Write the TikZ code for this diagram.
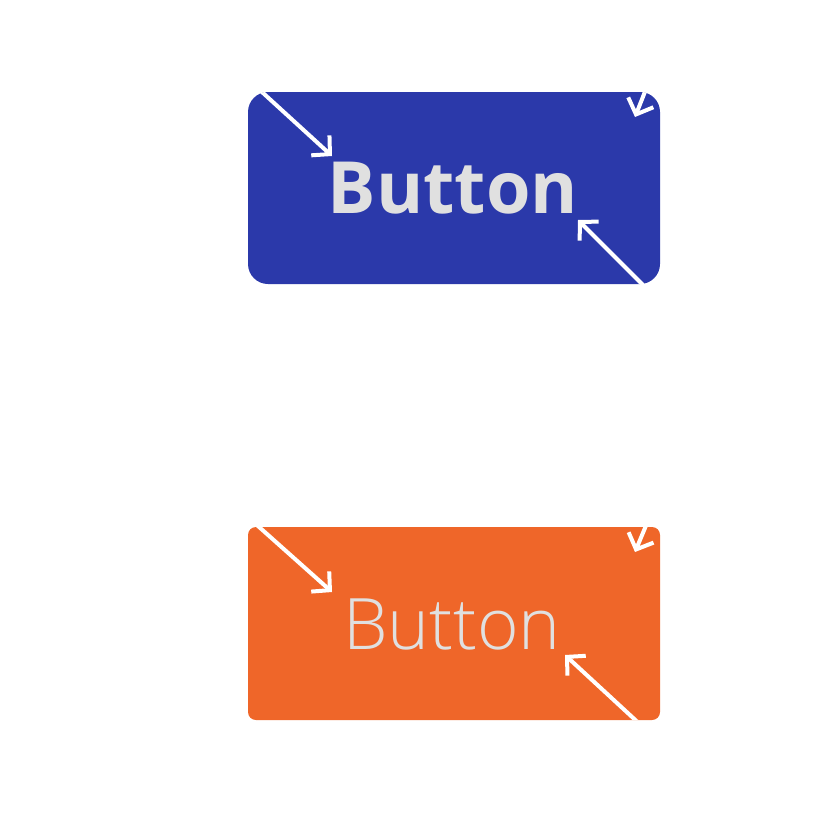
\documentclass[tikz,border=0pt]{standalone}
\usepackage{fontspec}
\setmainfont{Open Sans}
\newfontfamily\oslight{Open Sans Light}
\usetikzlibrary{arrows.meta}
\definecolor{btnblue}{HTML}{2B39AA}
\definecolor{btnorange}{HTML}{EF6629}
\definecolor{btntext}{HTML}{E0E0E0}
\tikzset{
  btnbox/.style={inner sep=0pt, minimum width=412pt},
  btnlabel/.style={text=btntext, inner sep=0pt, anchor=base},
  shrinkarrow/.style={draw=white, line width=4pt, -{Straight Barb[length=13pt,width=27pt]}}
}
\begin{document}
\begin{tikzpicture}[x=1pt,y=-1pt]
\useasboundingbox (0,0) rectangle (812,816);
% blue button
\node[btnbox, fill=btnblue, rounded corners=20pt, minimum height=192pt] (btnA) at (454,188) {};
\node[btnlabel, font=\fontsize{72}{80}\bfseries\selectfont] (labelA) at (453,213) {Button};
\begin{scope}
  \clip[rounded corners=20pt] (btnA.north west) rectangle (btnA.south east);
  \coordinate (a1s) at (251,82);  \coordinate (a1e) at (332,156);
  \coordinate (a2s) at (651,293); \coordinate (a2e) at (578,220);
  \coordinate (a3s) at (650,79);  \coordinate (a3e) at (635,117);
  \draw[shrinkarrow] (a1s) -- (a1e);
  \draw[shrinkarrow] (a2s) -- (a2e);
  \draw[shrinkarrow] (a3s) -- (a3e);
\end{scope}
% orange button
\node[btnbox, fill=btnorange, rounded corners=8pt, minimum height=193pt] (btnB) at (454,623.5) {};
\node[btnlabel, font=\fontsize{71}{80}\oslight\selectfont] (labelB) at (452,649) {Button};
\begin{scope}
  \clip[rounded corners=8pt] (btnB.north west) rectangle (btnB.south east);
  \coordinate (b1s) at (249,518); \coordinate (b1e) at (332,592);
  \coordinate (b2s) at (644,728); \coordinate (b2e) at (565,655);
  \coordinate (b3s) at (650,516); \coordinate (b3e) at (635,552);
  \draw[shrinkarrow] (b1s) -- (b1e);
  \draw[shrinkarrow] (b2s) -- (b2e);
  \draw[shrinkarrow] (b3s) -- (b3e);
\end{scope}
\end{tikzpicture}
\end{document}
